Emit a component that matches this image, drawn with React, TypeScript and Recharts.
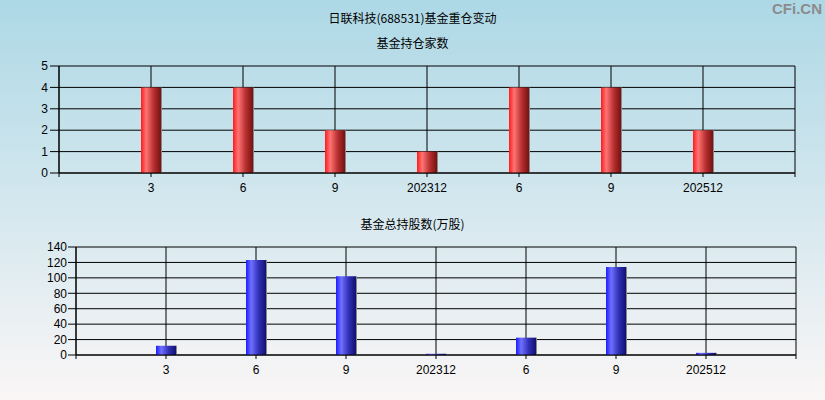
import React from "react";
import { BarChart, Bar, XAxis, YAxis, CartesianGrid } from "recharts";

const quarterLabels = ["3", "6", "9", "202312", "6", "9", "202512"];
const fundCounts = [4, 4, 2, 1, 4, 4, 2];
const fundShares = [12, 123, 102, 1.6, 22.5, 114, 2.8];
const countTicks = [0, 1, 2, 3, 4, 5];
const shareTicks = [0, 20, 40, 60, 80, 100, 120, 140];

const countData = quarterLabels.map((label, i) => ({ x: i + 1, label, value: fundCounts[i] }));
const shareData = quarterLabels.map((label, i) => ({ x: i + 1, label, value: fundShares[i] }));
const xTicks = [0, 1, 2, 3, 4, 5, 6, 7, 8];
const fmtX = (v: number) => (v >= 1 && v <= quarterLabels.length ? quarterLabels[v - 1] : "");

const FONT = "'Liberation Sans', Arial, 'Noto Sans CJK SC', sans-serif";
const tickStyle = { fill: "#000", fontSize: 12, fontFamily: FONT };

export default function App() {
  return (
    <div
      style={{
        position: "absolute",
        left: 0,
        top: 0,
        width: 825,
        height: 400,
        overflow: "hidden",
        background: "linear-gradient(180deg, #add8e6 0%, #d3e7ee 50%, #faf6f6 100%)",
        fontFamily: FONT,
      }}
    >
      <div style={{ position: "absolute", top: 9, left: 0, width: 825, textAlign: "center", fontSize: 12, color: "#000", fontFamily: "'Noto Sans CJK SC', sans-serif", lineHeight: "18px" }}>
        日联科技(688531)基金重仓变动
      </div>
      <div style={{ position: "absolute", top: 34, left: 0, width: 825, textAlign: "center", fontSize: 12, color: "#000", fontFamily: "'Noto Sans CJK SC', sans-serif", lineHeight: "18px" }}>
        基金持仓家数
      </div>
      <div style={{ position: "absolute", top: 215, left: 0, width: 825, textAlign: "center", fontSize: 12, color: "#000", fontFamily: "'Noto Sans CJK SC', sans-serif", lineHeight: "18px" }}>
        基金总持股数(万股)
      </div>
      <div style={{ position: "absolute", top: 0, right: 3, fontSize: 15, fontWeight: "bold", color: "#8c8c8c", fontFamily: FONT, lineHeight: "18px" }}>
        CFi.CN
      </div>

      <div style={{ position: "absolute", left: 0, top: 0 }}>
        <BarChart width={825} height={210} data={countData} margin={{ top: 66, right: 30, left: 19, bottom: 7 }}>
          <defs>
            <linearGradient id="redBar" x1="0" y1="0" x2="1" y2="0">
              <stop offset="0%" stopColor="#ff1c1c" />
              <stop offset="25%" stopColor="#ff7474" />
              <stop offset="60%" stopColor="#b83030" />
              <stop offset="94%" stopColor="#781212" />
              <stop offset="95%" stopColor="#8a8a8a" />
              <stop offset="100%" stopColor="#8a8a8a" />
            </linearGradient>
          </defs>
          <CartesianGrid stroke="#000" strokeWidth={1} />
          <XAxis
            dataKey="x"
            type="number"
            domain={[0, 8]}
            ticks={xTicks}
            interval={0}
            tickFormatter={fmtX}
            tick={tickStyle}
            tickSize={4}
            tickMargin={6}
            height={30}
            axisLine={{ stroke: "#000" }}
            tickLine={{ stroke: "#000" }}
          />
          <YAxis
            domain={[0, 5]}
            ticks={countTicks}
            interval={0}
            width={40}
            tick={tickStyle}
            tickSize={9}
            tickMargin={2}
            axisLine={{ stroke: "#000" }}
            tickLine={{ stroke: "#000" }}
          />
          <Bar dataKey="value" fill="url(#redBar)" barSize={21} isAnimationActive={false} />
        </BarChart>
      </div>

      <div style={{ position: "absolute", left: 0, top: 200 }}>
        <BarChart width={825} height={200} data={shareData} margin={{ top: 47, right: 29, left: 36, bottom: 15 }}>
          <defs>
            <linearGradient id="blueBar" x1="0" y1="0" x2="1" y2="0">
              <stop offset="0%" stopColor="#1c1cff" />
              <stop offset="25%" stopColor="#7070ff" />
              <stop offset="60%" stopColor="#3030b8" />
              <stop offset="94%" stopColor="#121272" />
              <stop offset="95%" stopColor="#8a8a8a" />
              <stop offset="100%" stopColor="#8a8a8a" />
            </linearGradient>
          </defs>
          <CartesianGrid stroke="#000" strokeWidth={1} />
          <XAxis
            dataKey="x"
            type="number"
            domain={[0, 8]}
            ticks={xTicks}
            interval={0}
            tickFormatter={fmtX}
            tick={tickStyle}
            tickSize={4}
            tickMargin={6}
            height={30}
            axisLine={{ stroke: "#000" }}
            tickLine={{ stroke: "#000" }}
          />
          <YAxis
            domain={[0, 140]}
            ticks={shareTicks}
            interval={0}
            width={40}
            tick={tickStyle}
            tickSize={8}
            tickMargin={1}
            axisLine={{ stroke: "#000" }}
            tickLine={{ stroke: "#000" }}
          />
          <Bar dataKey="value" fill="url(#blueBar)" barSize={21} isAnimationActive={false} />
        </BarChart>
      </div>
    </div>
  );
}
